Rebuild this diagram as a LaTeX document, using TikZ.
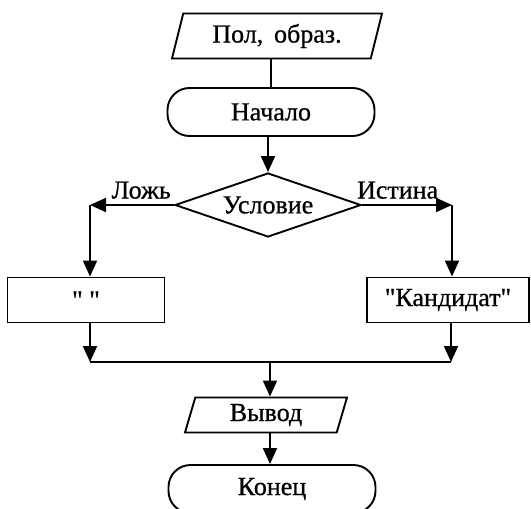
\documentclass[tikz,border=0pt]{standalone}
\usepackage{fontspec}
\setmainfont{Liberation Serif}[Ligatures=TeXOff, FakeBold=0.8]
\usepackage{tikz}
\usetikzlibrary{shapes.geometric, arrows.meta, positioning, calc}

\tikzset{
    every node/.style={font=\fontsize{26}{30}\selectfont},
    line/.style={line width=1.9pt},
    arr/.style={line, -{Triangle[length=16pt, width=14pt]}},
    iobox/.style={trapezium, trapezium left angle=65, trapezium right angle=115,
          trapezium stretches body, draw, line width=1.9pt, inner sep=0pt},
    termbox/.style={draw, line width=1.9pt, rounded corners=22pt, inner sep=0pt},
    condbox/.style={diamond, draw, line width=1.9pt, inner sep=0pt, aspect=2.9},
    procbox/.style={draw, line width=1.9pt, inner sep=0pt}
}

\begin{document}
\begin{tikzpicture}[x=1pt, y=-1pt]
    \useasboundingbox (0,0) rectangle (531,509);

    % main column
    \node[iobox, minimum width=210, minimum height=45] (inp) at (277,36) {Пол,\, образ.};
    \node[termbox, minimum width=207, minimum height=48] (start) at (271,112) {Начало};
    \node[condbox, minimum width=186, minimum height=64] (cond) at (268,205) {Условие};

    % branches
    \node[procbox, minimum width=157, minimum height=45] (no) at (86,300) {"\ "};
    \node[procbox, minimum width=162, minimum height=45] (yes) at (448,300) {"Кандидат"};

    \node[iobox, minimum width=162, minimum height=35] (out) at (266,415) {Вывод};
    \node[termbox, minimum width=207, minimum height=48] (stop) at (272,489) {Конец};

    \coordinate (lft) at (90,205);
    \coordinate (rgt) at (452,205);
    \coordinate (jl) at (90,362);
    \coordinate (jr) at (451,362);
    \coordinate (jm) at (270,362);

    % labels
    \node[above left=5pt and 2pt of cond.west, inner sep=1pt] (lbl-no) {Ложь};
    \node[above right=5pt and -6pt of cond.east, inner sep=1pt] (lbl-yes) {Истина};

    % connectors
    \draw[line] (start.north |- inp.south) -- (start.north);
    \draw[arr] (start.south -| cond.north) -- (cond.north);
    \draw[arr] (cond.west) -- (lft);
    \draw[arr] (lft) -- (lft |- no.north);
    \draw[arr] (cond.east) -- (rgt);
    \draw[arr] (rgt) -- (rgt |- yes.north);
    \draw[arr] (jl |- no.south) -- (jl);
    \draw[arr] (jr |- yes.south) -- (jr);
    \draw[line] (jl) -- (jr);
    \draw[arr] (jm) -- (jm |- out.north);
    \draw[arr] (jm |- out.south) -- (jm |- stop.north);
\end{tikzpicture}
\end{document}
